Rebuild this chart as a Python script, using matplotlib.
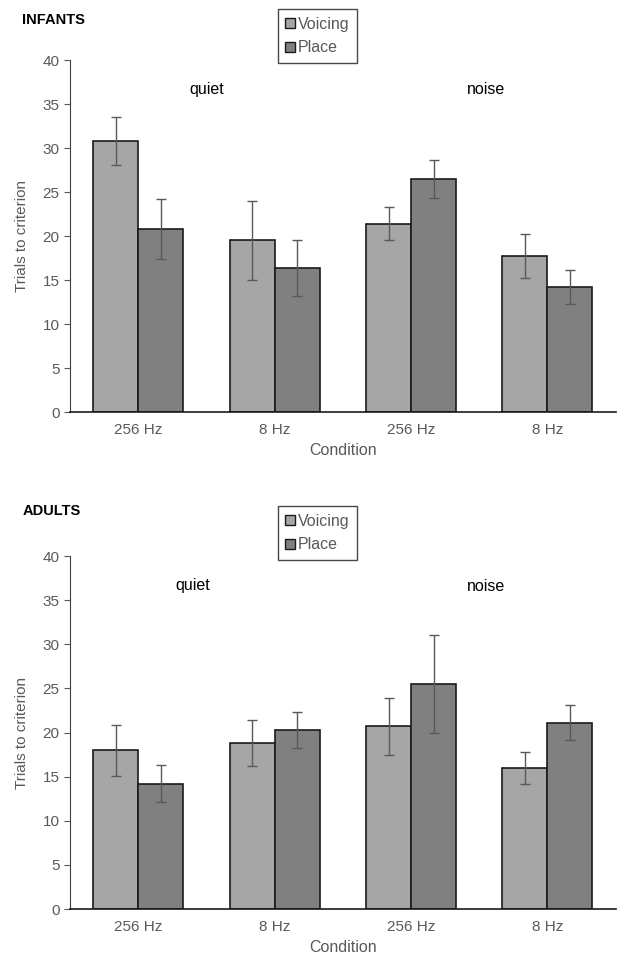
import numpy as np
import matplotlib
matplotlib.use('Agg')
import matplotlib.pyplot as plt
from matplotlib.patches import Patch

plt.rcParams['font.family'] = ['Liberation Sans', 'DejaVu Sans']

# Datos
condiciones = ['256 Hz', '8 Hz', '256 Hz', '8 Hz']
series = ['Voicing', 'Place']

infantes_voicing = [30.8, 19.5, 21.4, 17.7]
infantes_voicing_err = [2.7, 4.5, 1.9, 2.5]
infantes_place = [20.8, 16.4, 26.5, 14.2]
infantes_place_err = [3.45, 3.2, 2.2, 1.9]

adultos_voicing = [18.0, 18.8, 20.7, 16.0]
adultos_voicing_err = [2.9, 2.6, 3.2, 1.8]
adultos_place = [14.2, 20.3, 25.5, 21.1]
adultos_place_err = [2.1, 2.0, 5.5, 2.0]

gris_texto = '#595959'
colores = ['#a6a6a6', '#808080']

fig = plt.figure(figsize=(6.2, 9.69), dpi=100)


def panel(rect, titulo, voicing, voicing_err, place, place_err,
          quiet_pos, noise_pos, titulo_y, leyenda_rect):
    ax = fig.add_axes(rect)
    x = np.arange(len(condiciones))
    ancho = 0.33
    for i, (vals, errs) in enumerate([(voicing, voicing_err), (place, place_err)]):
        ax.bar(x + (i - 0.5) * ancho, vals, ancho, color=colores[i],
               edgecolor='#1a1a1a', linewidth=1.2, zorder=2)
        ax.errorbar(x + (i - 0.5) * ancho, vals, yerr=errs, fmt='none',
                    ecolor=gris_texto, elinewidth=1.0, capsize=3.5,
                    capthick=1.0, zorder=3)
    ax.set_xlim(-0.5, 3.5)
    ax.set_ylim(0, 40)
    ax.set_yticks(range(0, 41, 5))
    ax.set_xticks(x)
    ax.set_xticklabels(condiciones)
    ax.tick_params(axis='x', length=0, pad=8, labelsize=11, colors=gris_texto)
    ax.tick_params(axis='y', direction='out', length=4, labelsize=11,
                   colors=gris_texto, width=0.8)
    for s in ['top', 'right']:
        ax.spines[s].set_visible(False)
    ax.spines['left'].set_color('#404040')
    ax.spines['bottom'].set_color('#1a1a1a')
    ax.spines['bottom'].set_linewidth(1.2)
    ax.set_ylabel('Trials to criterion', color=gris_texto, fontsize=11, labelpad=10)
    ax.set_xlabel('Condition', color=gris_texto, fontsize=11.5, labelpad=4)
    ax.text(quiet_pos[0], quiet_pos[1], 'quiet', ha='center', va='center', fontsize=11.5)
    ax.text(noise_pos[0], noise_pos[1], 'noise', ha='center', va='center', fontsize=11.5)
    fig.text(0.036, titulo_y, titulo, fontsize=10.5, fontweight='bold', va='center')

    handles = [Patch(facecolor=c, edgecolor='#1a1a1a', label=s) for c, s in zip(colores, series)]
    leg = fig.legend(handles=handles, loc='center', bbox_to_anchor=leyenda_rect,
                     frameon=True, fancybox=False, fontsize=11.5, handlelength=0.6,
                     handleheight=0.6, handletextpad=0.2, borderpad=0.45,
                     labelspacing=0.55, labelcolor=gris_texto)
    leg.get_frame().set_edgecolor('#1a1a1a')
    leg.get_frame().set_linewidth(1.0)
    return ax


panel([0.113, 0.5748, 0.88, 0.3632], 'INFANTS',
      infantes_voicing, infantes_voicing_err, infantes_place, infantes_place_err,
      (0.5, 36.6), (2.55, 36.6), 1 - 20 / 969, (0.512, 1 - 36 / 969))

panel([0.113, 0.0619, 0.88, 0.3643], 'ADULTS',
      adultos_voicing, adultos_voicing_err, adultos_place, adultos_place_err,
      (0.4, 36.7), (2.55, 36.6), 1 - 511 / 969, (0.512, 1 - 533 / 969))

fig.savefig('out.png', dpi=100)
